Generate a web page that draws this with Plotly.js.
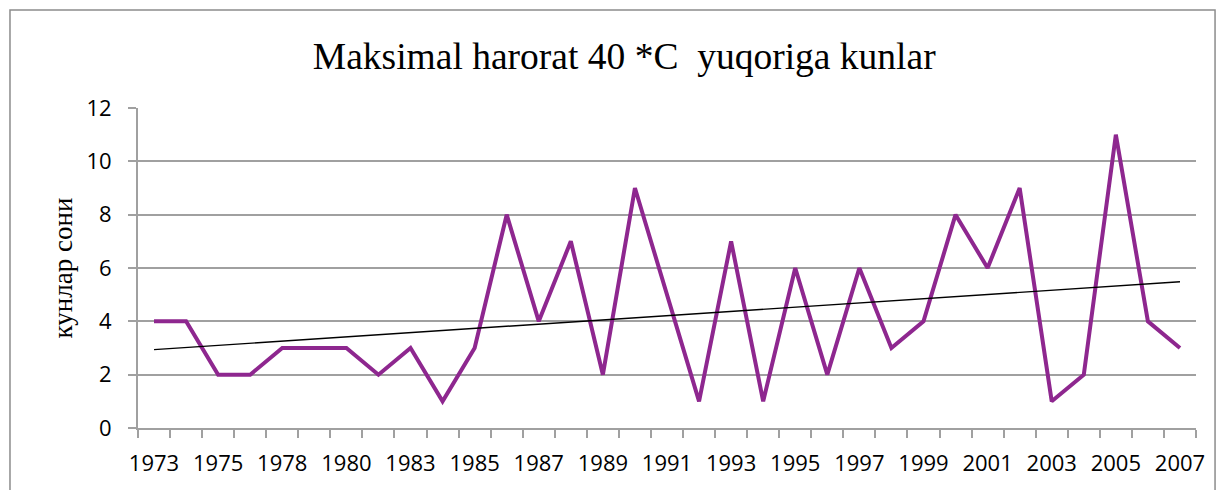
<!DOCTYPE html>
<html>
<head>
<meta charset="utf-8">
<script src="https://cdn.plot.ly/plotly-3.0.1.min.js"></script>
<style>html,body{margin:0;padding:0;background:#fff;}#chart{width:1224px;height:490px;}</style>
</head>
<body>
<div id="chart"></div>
<script>
// 33 observations; only every other category is labelled on the axis
const tickLabels = ["1973","1975","1978","1980","1983","1985","1987","1989","1991","1993","1995","1997","1999","2001","2003","2005","2007"];
const values = [4,4,2,2,3,3,3,2,3,1,3,8,4,7,2,9,5,1,7,1,6,2,6,3,4,8,6,9,1,2,11,4,3];

const idx = values.map((_, i) => i);
const n = values.length;
// least-squares linear trend
const mx = idx.reduce((a,b)=>a+b,0)/n;
const my = values.reduce((a,b)=>a+b,0)/n;
let sxy = 0, sxx = 0;
idx.forEach((x,i)=>{ sxy += (x-mx)*(values[i]-my); sxx += (x-mx)*(x-mx); });
const slope = sxy/sxx, icpt = my - slope*mx;
const trendX = [idx[0], idx[n-1]];
const trendY = trendX.map(x => icpt + slope*x);

const tickVals = tickLabels.map((_, k) => k*2);
const boundaries = [];
for (let i = 0; i <= n; i++) boundaries.push(i - 0.5);

const data = [
  {x: idx, y: values, type: 'scatter', mode: 'lines',
   line: {color: '#8E278F', width: 4}, hoverinfo: 'y', showlegend: false},
  {x: trendX, y: trendY, type: 'scatter', mode: 'lines',
   line: {color: '#000000', width: 1.4}, hoverinfo: 'skip', showlegend: false},
  // invisible helper so the label axis is drawn
  {x: [0], y: [null], xaxis: 'x2', yaxis: 'y', type: 'scatter', mode: 'lines', hoverinfo: 'skip', showlegend: false}
];

const axisGray = '#a0a0a0';
const layout = {
  width: 1224, height: 490,
  margin: {l: 138, r: 28, t: 108, b: 62},
  paper_bgcolor: '#ffffff', plot_bgcolor: '#ffffff',
  title: {text: 'Maksimal harorat 40 *C  yuqoriga kunlar',
          font: {family: 'Liberation Serif, Times New Roman, serif', size: 37.5, color: '#000'},
          xref: 'container', x: 0.51, xanchor: 'center', yref: 'container', y: 0.886, yanchor: 'middle'},
  // boundary ticks (category separators)
  xaxis: {range: [-0.5, n-0.5], tickmode: 'array', tickvals: boundaries, showticklabels: false,
          ticks: 'outside', ticklen: 8, tickcolor: axisGray, tickwidth: 2,
          showgrid: false, zeroline: false, showline: true, linecolor: axisGray, linewidth: 2,
          fixedrange: true},
  // category labels
  xaxis2: {overlaying: 'x', anchor: 'y', side: 'bottom', range: [-0.5, n-0.5],
          tickmode: 'array', tickvals: tickVals, ticktext: tickLabels,
          ticks: '', ticklabelstandoff: 20, showgrid: false, zeroline: false, showline: false,
          tickfont: {family: 'Open Sans, Noto Sans, sans-serif', size: 22, color: '#000'},
          fixedrange: true},
  yaxis: {range: [0, 12], tickmode: 'linear', tick0: 0, dtick: 2,
          ticks: 'outside', ticklen: 8, tickcolor: axisGray, tickwidth: 2, ticklabelstandoff: 12,
          showgrid: true, gridcolor: axisGray, gridwidth: 2, zeroline: false,
          showline: true, linecolor: axisGray, linewidth: 2,
          tickfont: {family: 'Open Sans, Noto Sans, sans-serif', size: 22, color: '#000'},
          title: {text: 'кунлар сони', font: {family: 'Liberation Serif, Times New Roman, serif', size: 27, color: '#000'}, standoff: 6},
          fixedrange: true},
  shapes: [{type: 'rect', xref: 'paper', yref: 'paper', x0: -0.121, x1: 1.018, y0: -0.25, y1: 1.306,
            line: {color: '#8c8c8c', width: 1.5}, fillcolor: 'rgba(0,0,0,0)', layer: 'below'}]
};

Plotly.newPlot('chart', data, layout, {displayModeBar: false, staticPlot: true});
</script>
</body>
</html>
